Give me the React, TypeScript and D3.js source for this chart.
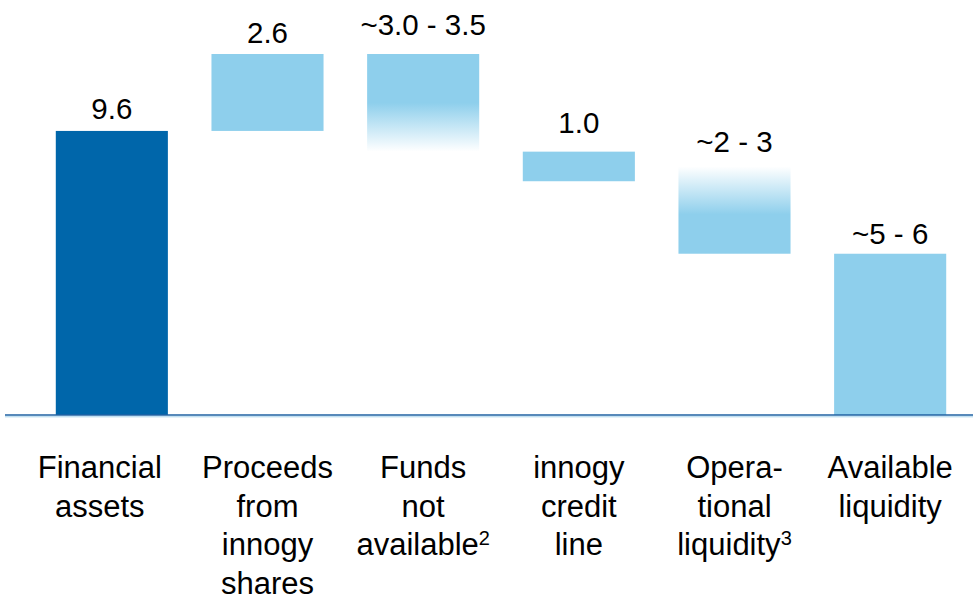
import React, { useEffect, useRef } from 'react';
import * as d3 from 'd3';

// Waterfall of liquidity (bn €)
const categories = [
  ["Financial", "assets"],
  ["Proceeds", "from", "innogy", "shares"],
  ["Funds", "not", "available|2"],
  ["innogy", "credit", "line"],
  ["Opera-", "tional", "liquidity|3"],
  ["Available", "liquidity"],
];
const barLow = [0, 9.6, 8.9, 7.9, 5.45, 0];
const barHigh = [9.6, 12.2, 12.2, 8.9, 8.4, 5.45];
const valueLabels = ["9.6", "2.6", "~3.0 - 3.5", "1.0", "~2 - 3", "~5 - 6"];
const fades = ["none", "none", "bottom", "none", "top", "none"];

// layout constants
const labelGaps = [12, 11, 19, 19, 14, 10];
const catShift = [-12, 0, 0, 0, 0, 0];
const W = 973;
const H = 597;
const DARK = "#0066aa";
const LIGHT = "#8ecfec";
const FONT = "'Liberation Sans', Arial, sans-serif";

export default function App() {
  const svgRef = useRef<SVGSVGElement>(null);

  useEffect(() => {
    if (!svgRef.current) return;
    const svg = d3.select(svgRef.current);
    svg.selectAll("*").remove();

    const x = d3.scaleBand<number>()
      .domain(d3.range(categories.length))
      .range([34, 968])
      .paddingInner(0.28)
      .paddingOuter(0.14);

    const y = d3.scaleLinear().domain([0, 12.2]).range([415, 54]);

    const defs = svg.append("defs");
    const fadeBottom = defs.append("linearGradient")
      .attr("id", "fadeBottom").attr("x1", 0).attr("y1", 0).attr("x2", 0).attr("y2", 1);
    fadeBottom.append("stop").attr("offset", "0%").attr("stop-color", LIGHT).attr("stop-opacity", 1);
    fadeBottom.append("stop").attr("offset", "50%").attr("stop-color", LIGHT).attr("stop-opacity", 1);
    fadeBottom.append("stop").attr("offset", "100%").attr("stop-color", LIGHT).attr("stop-opacity", 0);

    const fadeTop = defs.append("linearGradient")
      .attr("id", "fadeTop").attr("x1", 0).attr("y1", 0).attr("x2", 0).attr("y2", 1);
    fadeTop.append("stop").attr("offset", "0%").attr("stop-color", LIGHT).attr("stop-opacity", 0);
    fadeTop.append("stop").attr("offset", "55%").attr("stop-color", LIGHT).attr("stop-opacity", 1);
    fadeTop.append("stop").attr("offset", "100%").attr("stop-color", LIGHT).attr("stop-opacity", 1);

    const idx = d3.range(categories.length);

    // bars
    svg.selectAll("rect.bar")
      .data(idx)
      .enter()
      .append("rect")
      .attr("class", "bar")
      .attr("x", i => x(i) || 0)
      .attr("y", i => y(barHigh[i]))
      .attr("width", x.bandwidth())
      .attr("height", i => y(barLow[i]) - y(barHigh[i]))
      .attr("fill", i => {
        if (i === 0) return DARK;
        if (fades[i] === "bottom") return "url(#fadeBottom)";
        if (fades[i] === "top") return "url(#fadeTop)";
        return LIGHT;
      });

    // baseline
    svg.append("line")
      .attr("x1", 5).attr("x2", W)
      .attr("y1", y(0) + 1.8).attr("y2", y(0) + 1.8)
      .attr("stroke", "#a9d3ec").attr("stroke-width", 1);
    svg.append("line")
      .attr("x1", 5).attr("x2", W)
      .attr("y1", y(0)).attr("y2", y(0))
      .attr("stroke", "#1f62a3").attr("stroke-width", 1.6);

    // value labels
    svg.selectAll("text.value")
      .data(idx)
      .enter()
      .append("text")
      .attr("class", "value")
      .attr("x", i => (x(i) || 0) + x.bandwidth() / 2)
      .attr("y", i => y(barHigh[i]) - labelGaps[i])
      .attr("text-anchor", "middle")
      .attr("fill", "#000")
      .style("font-family", FONT)
      .style("font-size", "29.5px")
      .text(i => valueLabels[i]);

    // category labels
    idx.forEach(i => {
      const cx = (x(i) || 0) + x.bandwidth() / 2 + catShift[i];
      const t = svg.append("text")
        .attr("x", cx)
        .attr("y", 478)
        .attr("text-anchor", "middle")
        .attr("fill", "#000")
        .style("font-family", FONT)
        .style("font-size", "31px");
      categories[i].forEach((line, j) => {
        const [word, sup] = line.split("|");
        const ts = t.append("tspan")
          .attr("x", cx)
          .attr("dy", j === 0 ? 0 : 38.5);
        ts.append("tspan").text(word);
        if (sup) {
          ts.append("tspan")
            .attr("dy", -10)
            .style("font-size", "20px")
            .text(sup);
        }
      });
    });
  }, []);

  return (
    <div style={{ position: 'fixed', left: 0, top: 0, width: W, height: H, background: '#fff' }}>
      <svg ref={svgRef} width={W} height={H} style={{ display: 'block' }} />
    </div>
  );
}
